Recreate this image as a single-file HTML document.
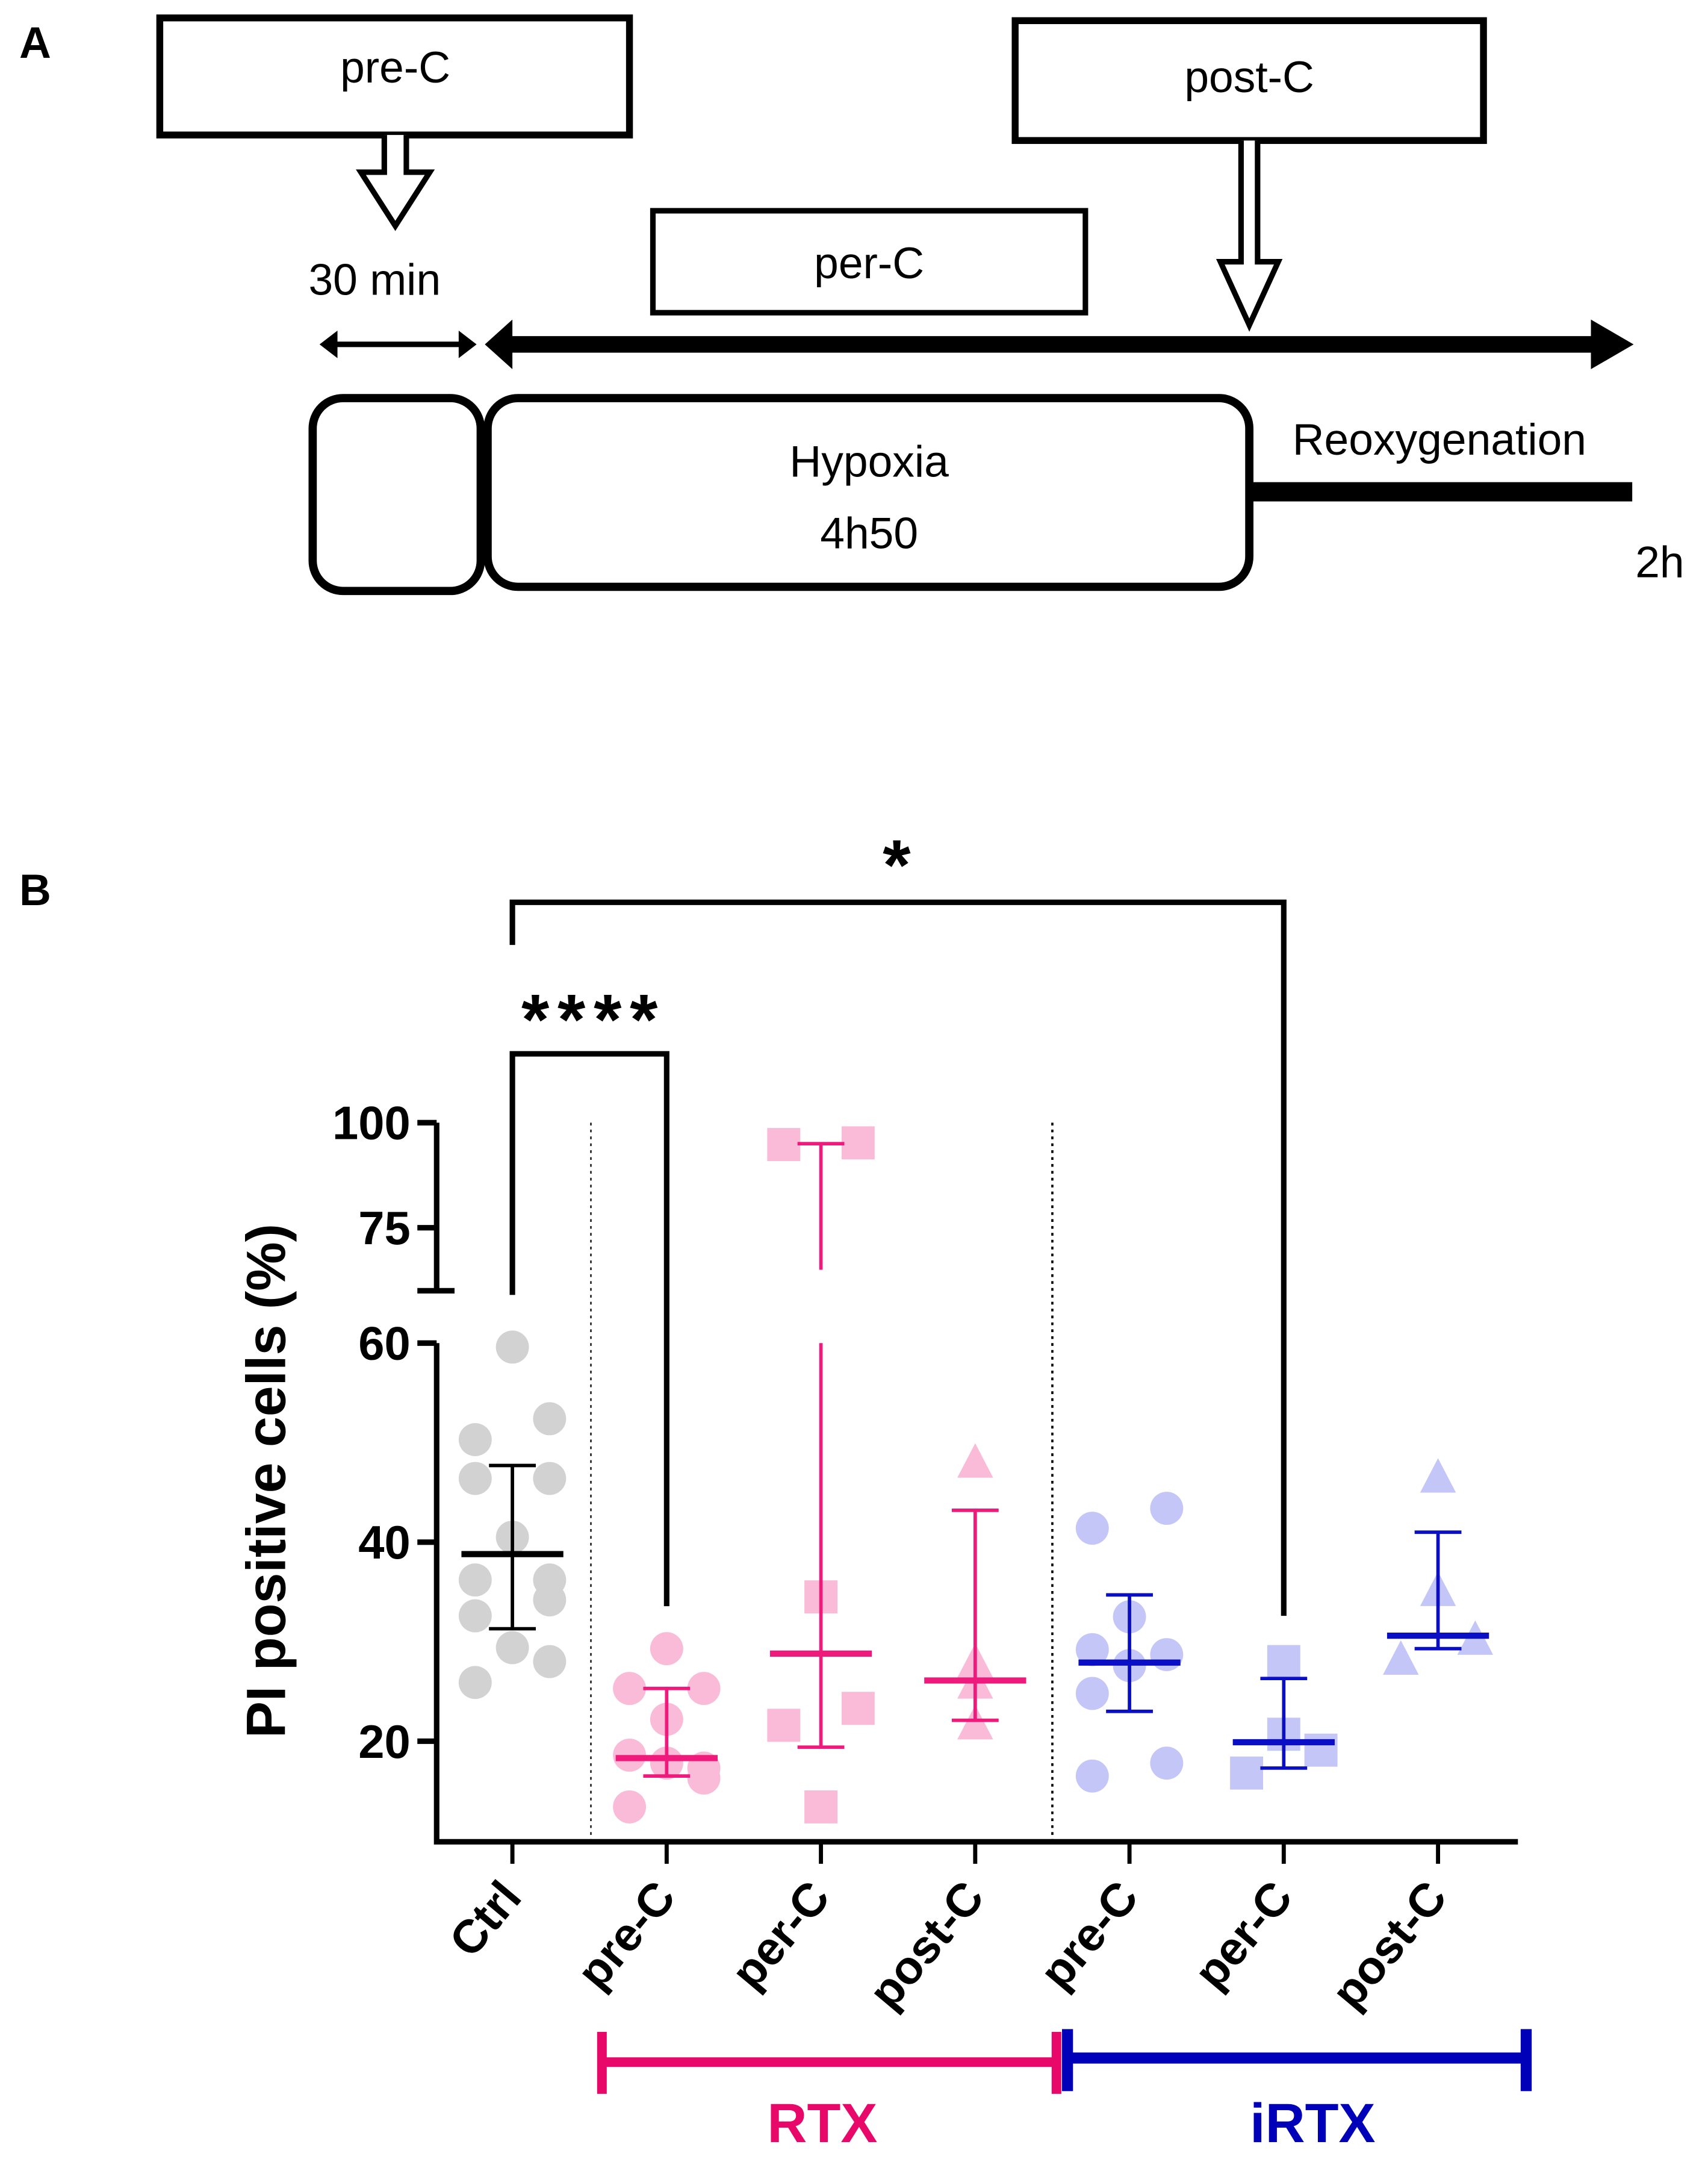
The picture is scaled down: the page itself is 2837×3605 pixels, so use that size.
<!DOCTYPE html>
<html><head><meta charset="utf-8"><style>
html,body{margin:0;padding:0;background:#fff;}
svg{display:block;}
text{font-family:"Liberation Sans",sans-serif;}
</style></head><body>
<svg id="fig" width="2837" height="3605" viewBox="0 0 1240 1576" preserveAspectRatio="none" xmlns="http://www.w3.org/2000/svg">
<g fill="none" stroke="#000">
<text x="14" y="42" font-size="32" font-weight="bold" stroke="none" fill="#000">A</text>
<rect x="116" y="13" width="341" height="85" stroke-width="5"/>
<text x="287" y="60" font-size="32" text-anchor="middle" stroke="none" fill="#000">pre-C</text>
<path d="M279,98 V125 H262 L287,164 L312,125 H295 V98" stroke-width="4" fill="#fff"/>
<rect x="737" y="15" width="340" height="87" stroke-width="5"/>
<text x="907" y="67" font-size="32" text-anchor="middle" stroke="none" fill="#000">post-C</text>
<path d="M901,102 V190 H886 L907,236 L928,190 H913 V102" stroke-width="4" fill="#fff"/>
<rect x="474" y="153" width="314" height="74" stroke-width="4"/>
<text x="631" y="202" font-size="32" text-anchor="middle" stroke="none" fill="#000">per-C</text>
<text x="272" y="214" font-size="32" text-anchor="middle" stroke="none" fill="#000">30 min</text>
<path d="M240,250 H338" stroke-width="4"/>
<path d="M232,250 L245,240 L245,260 Z M346,250 L333,240 L333,260 Z" fill="#000" stroke="none"/>
<path d="M370,250 H1165" stroke-width="12"/>
<path d="M352,250 L372,232 L372,268 Z M1186,250 L1155,232 L1155,268 Z" fill="#000" stroke="none"/>
<rect x="227" y="289" width="122" height="140" rx="22" stroke-width="6"/>
<rect x="354" y="289" width="553" height="137" rx="22" stroke-width="6"/>
<text x="631" y="346" font-size="32" text-anchor="middle" stroke="none" fill="#000">Hypoxia</text>
<text x="631" y="398" font-size="32" text-anchor="middle" stroke="none" fill="#000">4h50</text>
<path d="M907,357 H1185" stroke-width="14"/>
<text x="1045" y="330" font-size="32" text-anchor="middle" stroke="none" fill="#000">Reoxygenation</text>
<text x="1205" y="419" font-size="32" text-anchor="middle" stroke="none" fill="#000">2h</text>
</g>
<g id="chart"></g>
</svg>
<script>
const categories=["Ctrl","pre-C","per-C","post-C","pre-C","per-C","post-C"];
const groups=["ctrl","rtx","rtx","rtx","irtx","irtx","irtx"];
const shapes=["circle","circle","square","triangle","circle","square","triangle"];
const ctrlValues=[59.6,52.4,50.3,46.4,46.4,40.5,36.2,36.2,34.2,32.6,29.4,28.0,25.9];
const rtxPreValues=[29.3,25.3,25.3,22.2,18.6,17.8,17.3,16.3,13.4];
const rtxPerValues=[94.8,95.2,34.5,23.3,21.6,13.4];
const rtxPostValues=[48.0,27.9,25.8,21.7];
const irtxPreValues=[43.4,41.4,32.5,29.2,28.7,27.6,24.8,17.8,16.5];
const irtxPerValues=[28.0,20.7,19.1,16.8];
const irtxPostValues=[46.5,35.1,30.2,28.2];
const means=[38.8,18.3,28.8,26.1,27.9,19.9,30.6];
const errLow=[31.3,16.5,19.4,22.1,23.0,17.3,29.3];
const errHigh=[47.7,25.3,95.0,43.2,34.7,26.3,41.0];
const lowerTicks=[20,40,60];
const upperTicks=[75,100];
const allValues=[ctrlValues,rtxPreValues,rtxPerValues,rtxPostValues,irtxPreValues,irtxPerValues,irtxPostValues];
// horizontal scatter column (-1 left, 0 centre, +1 right), visual layout only
const jitterCols=[
 [0,1,-1,-1,1,0,-1,1,1,-1,0,1,-1],
 [0,-1,1,0,-1,0,1,1,-1],
 [-1,1,0,1,-1,0],
 [0,0,0,0],
 [1,-1,0,-1,1,0,-1,1,-1],
 [0,0,1,-1],
 [0,0,1,-1]
];

const NS="http://www.w3.org/2000/svg";
const g=document.getElementById('chart');
function el(t,a,p){const e=document.createElementNS(NS,t);for(const k in a)e.setAttribute(k,a[k]);(p||g).appendChild(e);return e;}
function y(v){ if(v<=62) return 975+(60-v)*7.225; return 937-(v-60)*3.05; }
function x(i){ return 372+i*112; }
const colPt={ctrl:"#d2d2d2",rtx:"#f9bbd8",irtx:"#c3c6f6"};
const colBar={ctrl:"#000",rtx:"#ef1b7c",irtx:"#0a0ec4"};

let a=el('path',{d:`M317,975 V1337 H1102 M317,937 V815`,stroke:"#000","stroke-width":4,fill:"none"});


lowerTicks.concat(upperTicks).forEach(t=>{const tk=el('path',{d:`M303,${y(t)} H317`,stroke:"#000","stroke-width":4});


const tl=el('text',{x:298,y:y(t)+12,"font-size":34,"font-weight":"bold","text-anchor":"end"});tl.textContent=t;

});
el('path',{d:`M303,937 H330`,stroke:"#000","stroke-width":4});
const yl=el('text',{x:0,y:0,"font-size":40,"font-weight":"bold","text-anchor":"middle",transform:"translate(207,1075) rotate(-90)"});yl.textContent="PI positive cells (%)";


[429,764].forEach((sx,k)=>{const d=el('path',{d:`M${sx},815 V1337`,stroke:"#000","stroke-width":k?1.6:1,"stroke-dasharray":"2,3"});

});
allValues.forEach((vals,i)=>{
 vals.forEach((v,k)=>{
  const cx=x(i)+(jitterCols[i][k]||0)*27, cy=y(v), c=colPt[groups[i]];
  let m;
  if(shapes[i]==="circle") m=el('circle',{cx:cx,cy:cy,r:12,fill:c});
  else if(shapes[i]==="square") m=el('rect',{x:cx-12,y:cy-12,width:24,height:24,fill:c});
  else m=el('path',{d:`M${cx},${cy-14} L${cx+13},${cy+11} L${cx-13},${cy+11} Z`,fill:c});
  
  
 });
});
categories.forEach((c,i)=>{
 const col=colBar[groups[i]], cx=x(i);
 let d;
 if(errHigh[i]>62) d=`M${cx},${y(errLow[i])} V${y(60)} M${cx},${y(65)} V${y(errHigh[i])} M${cx-17},${y(errHigh[i])} H${cx+17}`;
 else d=`M${cx},${y(errLow[i])} V${y(errHigh[i])} M${cx-17},${y(errHigh[i])} H${cx+17}`;
 d+=` M${cx-17},${y(errLow[i])} H${cx+17}`;
 const e=el('path',{d:d,stroke:col,"stroke-width":2.5,fill:"none"});
 
 
 const m=el('path',{d:`M${cx-37},${y(means[i])} H${cx+37}`,stroke:col,"stroke-width":4.5});
 
 
 const tk=el('path',{d:`M${cx},1337 V1353`,stroke:"#000","stroke-width":3});
 
 
 const t=el('text',{x:0,y:0,"font-size":34,"font-weight":"bold","text-anchor":"end",transform:`translate(${cx+8},${1378}) rotate(-50)`});t.textContent=c;
 
 
});
const b1=el('path',{d:`M372,940 V765 H484 V1166`,stroke:"#000","stroke-width":4,fill:"none"});


const s1=el('text',{x:431,y:758,"font-size":52,"font-weight":"bold","text-anchor":"middle","letter-spacing":"6"});s1.textContent="****";


const b2=el('path',{d:`M372,686 V655 H932 V1173`,stroke:"#000","stroke-width":4,fill:"none"});


const s2=el('text',{x:651,y:646,"font-size":52,"font-weight":"bold","text-anchor":"middle"});s2.textContent="*";


const pb=el('text',{x:14,y:657,"font-size":32,"font-weight":"bold"});pb.textContent="B";


const r=el('path',{d:`M437,1497 H767 M437,1475 V1520 M767,1475 V1520`,stroke:"#e8086a","stroke-width":7,fill:"none"});


const rt=el('text',{x:597,y:1555,"font-size":40,"font-weight":"bold","text-anchor":"middle",fill:"#e8086a"});rt.textContent="RTX";


const ib=el('path',{d:`M775,1494 H1108 M775,1473 V1518 M1108,1473 V1518`,stroke:"#0000b8","stroke-width":8,fill:"none"});


const it=el('text',{x:953,y:1555,"font-size":40,"font-weight":"bold","text-anchor":"middle",fill:"#0000b8"});it.textContent="iRTX";


</script>
</body></html>
